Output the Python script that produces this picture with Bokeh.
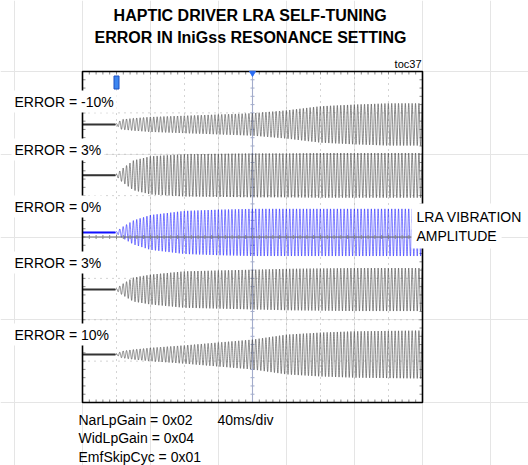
import numpy as np
from bokeh.plotting import figure
from bokeh.models import Label
from bokeh.embed import file_html
from bokeh.resources import INLINE

# ---------------- data ----------------
TITLE_LINES = ["HAPTIC DRIVER LRA SELF-TUNING", "ERROR IN IniGss RESONANCE SETTING"]
TOC = "toc37"
TRACE_LABELS = ["ERROR = -10%", "ERROR = 3%", "ERROR = 0%", "ERROR = 3%", "ERROR = 10%"]
NOTE_LINES = ["NarLpGain = 0x02", "WidLpGain = 0x04", "EmfSkipCyc = 0x01"]
TIMEBASE = "40ms/div"
AMP_LABEL = ["LRA VIBRATION", "AMPLITUDE"]

# baseline level of each trace (divisions from screen centre)
TRACE_BASE = [2.72, 1.49, 0.11, -1.27, -2.84]
# trigger / drive onset (division from the left edge)
TRIGGER_DIV = 0.97
# LRA oscillation cycles per horizontal division
CYCLES_PER_DIV = 10.0
# envelope (peak amplitude, divisions) read at these horizontal positions
ENV_X = [0.97, 1.15, 1.5, 2, 3, 4, 5, 6, 7, 8, 9, 10]
ENV_ERR_M10 = [0.0, 0.12, 0.15, 0.18, 0.21, 0.24, 0.27, 0.34, 0.44, 0.48, 0.51, 0.51]
ENV_ERR_P3A = [0.0, 0.15, 0.36, 0.46, 0.51, 0.52, 0.53, 0.53, 0.54, 0.54, 0.54, 0.54]
ENV_ERR_0 = [0.0, 0.12, 0.29, 0.42, 0.52, 0.55, 0.57, 0.57, 0.57, 0.57, 0.57, 0.57]
ENV_ERR_P3B = [0.0, 0.12, 0.29, 0.36, 0.44, 0.46, 0.48, 0.50, 0.51, 0.52, 0.52, 0.52]
ENV_ERR_P10 = [0.0, 0.08, 0.12, 0.16, 0.22, 0.29, 0.36, 0.48, 0.53, 0.56, 0.57, 0.58]
ENVELOPES = [ENV_ERR_M10, ENV_ERR_P3A, ENV_ERR_0, ENV_ERR_P3B, ENV_ERR_P10]
TRACE_COLORS = ["#333333", "#333333", "#1010ff", "#333333", "#333333"]

# scope screen
SCREEN_DIV_X = 10
SCREEN_DIV_Y = 8
SUBDIV = 5

# ---------------- layout ----------------
PX_X = 34.0      # pixels per horizontal division
PX_Y = 41.375    # pixels per vertical division
LEFT_PX = 82.0   # x of the screen's left edge
TOP_PX = 71.0    # y of the screen's top edge
W, H = 528, 465
FONT = "Liberation Sans"

HX = SCREEN_DIV_X / 2
HY = SCREEN_DIV_Y / 2


def xd(px):
    return (px - LEFT_PX) / PX_X


def yd(py):
    return HY - (py - TOP_PX) / PX_Y


p = figure(width=W, height=H,
           x_range=(xd(0), xd(W)), y_range=(yd(H), yd(0)),
           output_backend="svg", toolbar_location=None,
           x_axis_location=None, y_axis_location=None,
           min_border=0, min_border_left=0, min_border_right=0,
           min_border_top=0, min_border_bottom=0)
p.outline_line_color = None
p.background_fill_color = "white"
p.border_fill_color = "white"

# grid (dotted)
gx = [float(i) for i in range(1, SCREEN_DIV_X) if i != HX]
gy = [float(j) for j in range(-int(HY) + 1, int(HY)) if j != 0]
p.segment(x0=gx, y0=[-HY] * len(gx), x1=gx, y1=[HY] * len(gx),
          line_color="#a8a8a8", line_width=1, line_dash="1 5")
p.segment(x0=[0.0] * len(gy), y0=gy, x1=[float(SCREEN_DIV_X)] * len(gy), y1=gy,
          line_color="#a8a8a8", line_width=1, line_dash="1 5")

# border ticks
tx = np.arange(0, SCREEN_DIV_X + 1e-9, 1.0 / SUBDIV)
ty = np.arange(-HY, HY + 1e-9, 1.0 / SUBDIV)
tl_y = 3.0 / PX_Y
tl_x = 3.0 / PX_X
p.segment(x0=tx, y0=np.full_like(tx, -HY), x1=tx, y1=np.full_like(tx, -HY + tl_y),
          line_color="#888888", line_width=1)
p.segment(x0=tx, y0=np.full_like(tx, HY), x1=tx, y1=np.full_like(tx, HY - tl_y),
          line_color="#888888", line_width=1)
p.segment(x0=np.full_like(ty, 0.0), y0=ty, x1=np.full_like(ty, tl_x), y1=ty,
          line_color="#888888", line_width=1)
p.segment(x0=np.full_like(ty, SCREEN_DIV_X), y0=ty, x1=np.full_like(ty, SCREEN_DIV_X - tl_x), y1=ty,
          line_color="#888888", line_width=1)

# centre vertical line with ticks
p.segment(x0=[HX], y0=[-HY], x1=[HX], y1=[HY], line_color="#a3accb", line_width=1.1)
p.segment(x0=np.full_like(ty, HX - 2 / PX_X), y0=ty, x1=np.full_like(ty, HX + 2 / PX_X), y1=ty,
          line_color="#a3accb", line_width=1)

# traces
xs = np.linspace(0, SCREEN_DIV_X, 4001)
for base, env, col in zip(TRACE_BASE, ENVELOPES, TRACE_COLORS):
    e = np.interp(xs, ENV_X, env, left=0.0)
    ph = 2 * np.pi * CYCLES_PER_DIV * np.clip(xs - TRIGGER_DIV, 0, None)
    ys = base + e * np.sin(ph)
    p.line(xs, ys, line_color=col, line_width=0.55)
    pre = xs <= TRIGGER_DIV
    p.line(xs[pre], np.full(pre.sum(), base), line_color=col, line_width=2)

# centre horizontal line with ticks
p.segment(x0=[0.0], y0=[0.0], x1=[float(SCREEN_DIV_X)], y1=[0.0], line_color="#6a6a6a", line_width=1.1)
p.segment(x0=tx, y0=np.full_like(tx, -2 / PX_Y), x1=tx, y1=np.full_like(tx, 2 / PX_Y),
          line_color="#8a8a8a", line_width=1)

# screen border
p.rect(x=[HX], y=[0.0], width=[float(SCREEN_DIV_X)], height=[float(SCREEN_DIV_Y)],
       fill_color=None, line_color="black", line_width=1.6)

# scope markers: time reference and trigger position
p.scatter(x=[HX], y=[HY - 1.5 / PX_Y], marker="inverted_triangle", size=6,
          fill_color="#2a6df4", line_color="#2a6df4")
p.rect(x=[TRIGGER_DIV + 0.03], y=[yd(82)], width=5, height=13, width_units="screen",
       height_units="screen", fill_color="#3d86f0", line_color="#1d4fc0", line_width=1)


def lab(x, y, text, size, align="left", bold=False, bg=False, pad=0):
    kw = dict(x=x, y=y, text=text, text_font=FONT, text_font_size=f"{size}px",
              text_align=align, text_baseline="middle", text_color="black",
              text_font_style="bold" if bold else "normal")
    if bg:
        kw.update(background_fill_color="white", background_fill_alpha=1.0, padding=pad)
    p.add_layout(Label(**kw))


lab(xd(250), yd(15), TITLE_LINES[0], 16, align="center", bold=True)
lab(xd(250), yd(37), TITLE_LINES[1], 16, align="center", bold=True)
lab(xd(421), yd(63), TOC, 11, align="right")

for text, py in zip(TRACE_LABELS, [101, 149, 206, 262, 334]):
    lab(xd(11), yd(py), text, 14, bg=True, pad=3)

lab(xd(411), yd(216), AMP_LABEL[0], 14, bg=True, pad=5)
lab(xd(411), yd(235), AMP_LABEL[1], 14, bg=True, pad=5)

for text, py in zip(NOTE_LINES, [419, 437, 456]):
    lab(xd(78), yd(py), text, 14)
lab(xd(217), yd(419), TIMEBASE, 14)

open("out.html", "w").write(file_html(p, INLINE))
